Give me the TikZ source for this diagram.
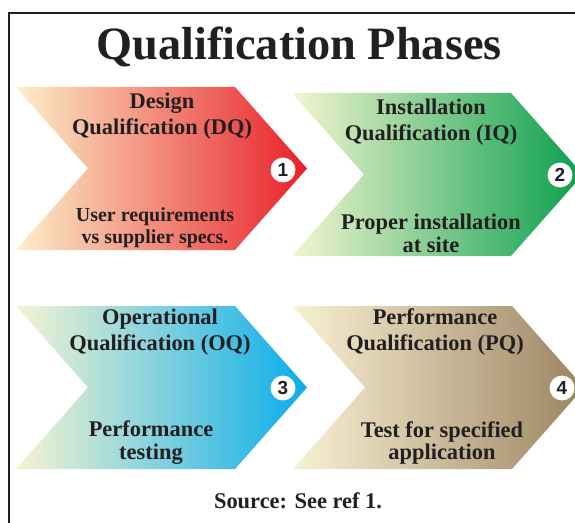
\documentclass[tikz,border=0pt]{standalone}
\usepackage{fontspec}
\setmainfont{Liberation Serif}
\newfontfamily\badgefont{Liberation Sans}

\definecolor{ink}{HTML}{231F20}
\definecolor{creamA}{HTML}{FCEFC8}
\definecolor{creamB}{HTML}{F3F5CF}
\definecolor{creamC}{HTML}{F6F3D2}
\definecolor{creamD}{HTML}{F9F1D3}
\definecolor{dqred}{HTML}{E8202A}
\definecolor{iqgreen}{HTML}{0A9F4E}
\definecolor{oqblue}{HTML}{0AADEA}
\definecolor{pqbrown}{HTML}{9C8462}

\tikzset{
  pics/chevron/.style args={#1/#2}{code={
    \shade[left color=#1, right color=#2]
      (0,0) -- (219,0) -- (291,81.5) -- (219,163) -- (0,163) -- (72,81.5) -- cycle;
  }},
  headtext/.style={align=center, inner sep=0pt, text=ink,
    font=\fontsize{22.5}{26}\selectfont\bfseries},
  bodytext/.style={align=center, inner sep=0pt, text=ink,
    font=\fontsize{22.5}{23}\selectfont\bfseries},
  badge/.style={circle, fill=white, inner sep=0pt, minimum size=25,
    text=ink, font=\badgefont\fontsize{19}{19}\selectfont\bfseries},
}

\begin{document}
\begin{tikzpicture}[x=1bp,y=-1bp]
  \useasboundingbox (0,0) rectangle (575,523);
  \clip (0,0) rectangle (575,523);

  % outer frame
  \draw[line width=2.5bp, ink] (9,13) rectangle (640,560);

  % title
  \node[anchor=base, inner sep=0pt, text=ink,
        font=\fontsize{46.5}{46.5}\selectfont\bfseries] (title) at (299,60)
        {Qualification Phases};

  % the four phase arrows
  \pic at (16,87)  {chevron={creamA/dqred}};
  \pic at (292,93) {chevron={creamB/iqgreen}};
  \pic at (16,306) {chevron={creamC/oqblue}};
  \pic at (293,306){chevron={creamD/pqbrown}};

  % phase 1
  \node[headtext] (dqhead) at (162,116.5) {Design\\Qualification (DQ)};
  \node[bodytext, font=\fontsize{20}{22}\selectfont\bfseries] (dqbody) at (155,228)
        {User requirements\\vs supplier specs.};
  \node[badge] (b1) at (283,170) {1};

  % phase 2
  \node[headtext] (iqhead) at (431,122) {Installation\\Qualification (IQ)};
  \node[bodytext] (iqbody) at (431,233) {Proper installation\\at site};
  \node[badge] (b2) at (560,175) {2};

  % phase 3
  \node[headtext] (oqhead) at (160,332) {Operational\\Qualification (OQ)};
  \node[bodytext] (oqbody) at (151,443) {Performance\\testing};
  \node[badge] (b3) at (283,388) {3};

  % phase 4
  \node[headtext] (pqhead) at (435,332) {Performance\\Qualification (PQ)};
  \node[bodytext] (pqbody) at (442,443) {Test for specified\\application};
  \node[badge] (b4) at (562,388) {4};

  % source line
  \node[inner sep=0pt, text=ink, font=\fontsize{22.5}{22.5}\selectfont\bfseries]
        (source) at (298,501) {Source: See ref 1.};
\end{tikzpicture}
\end{document}
